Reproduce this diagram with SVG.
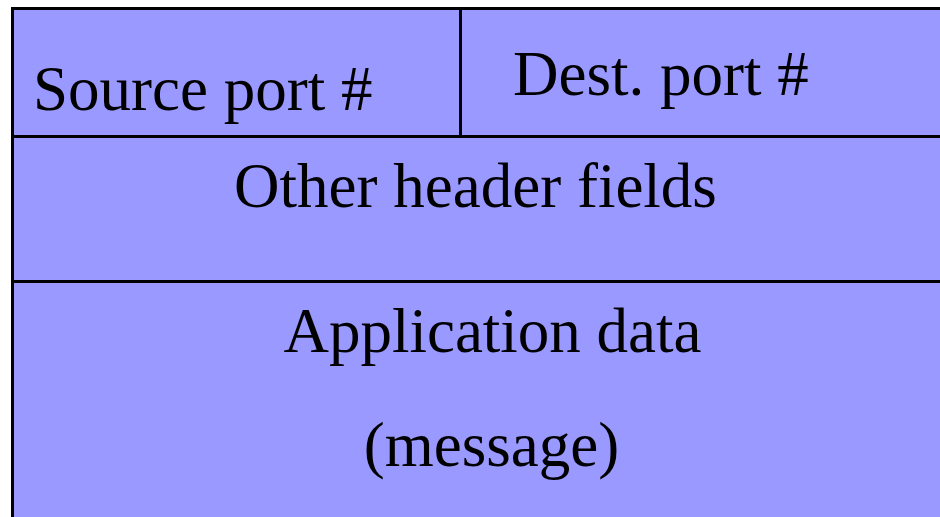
<svg xmlns="http://www.w3.org/2000/svg" width="940" height="517" viewBox="0 0 940 517">
<style>
.t{font-family:"Liberation Serif","Times New Roman",serif;font-size:63px;fill:#000}
.ln{stroke:#000;stroke-width:3;fill:none}
</style>
<rect width="940" height="517" fill="#fff"/>
<g id="segment">
<rect x="12.5" y="8.5" width="940" height="520" fill="#9999ff" stroke="#000" stroke-width="3"/>
</g>
<g id="dividers">
<line class="ln" x1="12" y1="136.5" x2="945" y2="136.5"/>
<line class="ln" x1="12" y1="281.5" x2="945" y2="281.5"/>
<line class="ln" x1="460.5" y1="8" x2="460.5" y2="136"/>
</g>
<g id="source-port"><text class="t" x="33" y="110">Source port #</text></g>
<g id="dest-port"><text class="t" x="513" y="95">Dest. port #</text></g>
<g id="other-header"><text class="t" x="475.5" y="207" text-anchor="middle">Other header fields</text></g>
<g id="app-data">
<text class="t" x="492.5" y="352" text-anchor="middle">Application data</text>
<text class="t" x="491.5" y="466" text-anchor="middle">(message)</text>
</g>
</svg>
